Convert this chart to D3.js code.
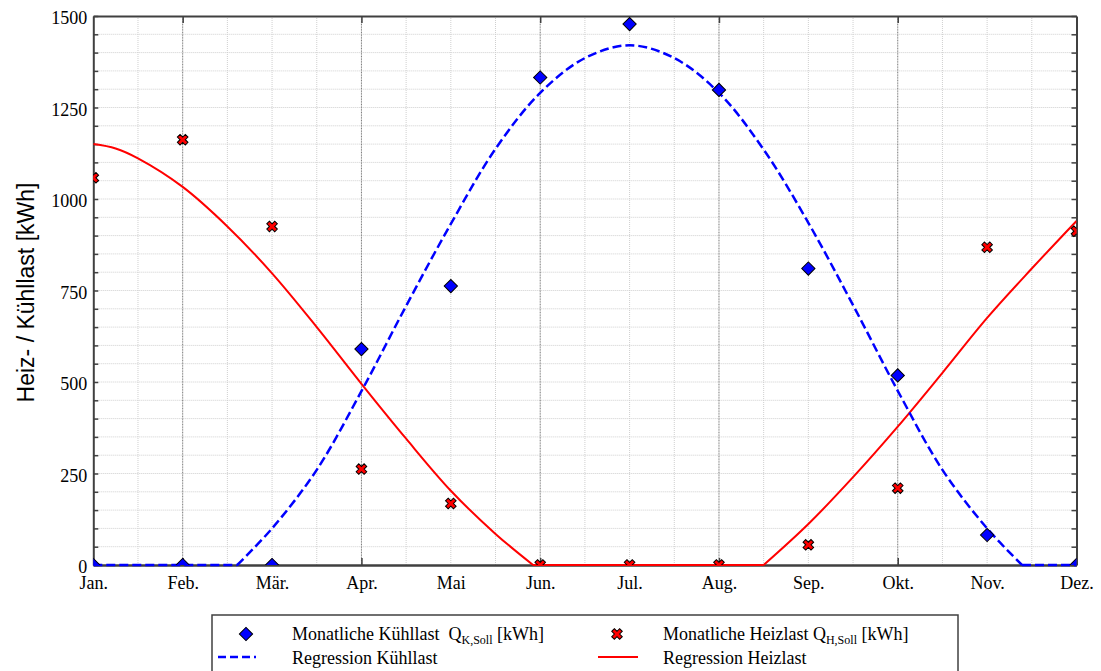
<!DOCTYPE html>
<html>
<head>
<meta charset="utf-8">
<script src="https://cdn.jsdelivr.net/npm/d3@7"></script>
<style>
body{margin:0;background:#fff;}
svg{display:block;}
</style>
</head>
<body>
<svg id="chart"></svg>
<script>
var width = 1101, height = 671;
var plotL = 93.3, plotR = 1076.5, plotT = 16, plotB = 565;

// Monate
var months = ["Jan.","Feb.","Mär.","Apr.","Mai","Jun.","Jul.","Aug.","Sep.","Okt.","Nov.","Dez."];
// Messwerte [kWh]
var kuehllast = [0, 0, 0, 590, 762, 1332, 1478, 1298, 810, 518, 82, 0];
var heizlast = [1058, 1162, 925, 262, 168, 0, 0, 0, 55, 210, 868, 912];
// Regressionskurven (Monatsindex / Wert)
var regKuehlT = [0, 1.61, 2, 2.5, 3, 3.5, 4, 4.5, 5, 5.5, 6, 6.5, 7, 7.5, 8, 8.5, 9, 9.5, 10, 10.39, 11];
var regKuehlV = [0, 0, 100, 260, 475, 708, 932, 1137, 1290, 1385, 1420, 1385, 1290, 1135, 935, 710, 476, 260, 100, 0, 0];
var regHeizT = [0, 0.25, 0.5, 1, 1.5, 2, 2.5, 3, 3.5, 4, 4.5, 4.92, 7.5, 8, 8.5, 9, 9.5, 10, 10.5, 11];
var regHeizV = [1150, 1138, 1111, 1033, 925, 797, 650, 495, 345, 203, 85, 0, 0, 112, 240, 378, 525, 675, 810, 940];
var yTicks = [0, 250, 500, 750, 1000, 1250, 1500];

var svg = d3.select("#chart").attr("width", width).attr("height", height);

var x = d3.scaleLinear().domain([0, 11]).range([plotL, plotR]);
var y = d3.scaleLinear().domain([0, 1500]).range([plotB, plotT]);

var defs = svg.append("defs");
defs.append("clipPath").attr("id", "plotclip")
  .append("rect")
  .attr("x", plotL).attr("y", plotT)
  .attr("width", plotR - plotL).attr("height", plotB - plotT);
defs.append("clipPath").attr("id", "lineclip")
  .append("rect")
  .attr("x", plotL).attr("y", plotT)
  .attr("width", plotR - plotL).attr("height", plotB - plotT + 2);

// Gitter
var grid = svg.append("g");
grid.selectAll(".vmin")
  .data(d3.range(0.5, 11, 0.5).filter(function(d){ return [1,3,5,7,9].indexOf(d) < 0; }))
  .enter().append("line")
  .attr("x1", function(d){ return x(d); }).attr("x2", function(d){ return x(d); })
  .attr("y1", plotT).attr("y2", plotB)
  .attr("stroke", "#cfcfcf").attr("stroke-width", 1).attr("stroke-dasharray", "1,1");
grid.selectAll(".hmin")
  .data(d3.range(50, 1500, 50))
  .enter().append("line")
  .attr("x1", plotL).attr("x2", plotR)
  .attr("y1", function(d){ return y(d); }).attr("y2", function(d){ return y(d); })
  .attr("stroke", "#cfcfcf").attr("stroke-width", 1).attr("stroke-dasharray", "1,1");
grid.selectAll(".vmaj")
  .data([1, 3, 5, 7, 9])
  .enter().append("line")
  .attr("x1", function(d){ return x(d); }).attr("x2", function(d){ return x(d); })
  .attr("y1", plotT).attr("y2", plotB)
  .attr("stroke", "#7a7a7a").attr("stroke-width", 1).attr("stroke-dasharray", "1,0.6");

// Achsen
var fontSerif = "'Liberation Serif','Times New Roman',serif";
var yAxisL = d3.axisLeft(y).tickValues(d3.range(0, 1501, 50)).tickSizeInner(-5).tickSizeOuter(0).tickPadding(6)
  .tickFormat(function(d){ return yTicks.indexOf(d) >= 0 ? d : ""; });
var gl = svg.append("g").attr("transform", "translate(" + plotL + ",0)").call(yAxisL);
gl.selectAll("text").attr("dy", "0.42em");

var yAxisR = d3.axisRight(y).tickValues(d3.range(0, 1501, 50)).tickSizeInner(-5).tickSizeOuter(0).tickFormat("");
svg.append("g").attr("transform", "translate(" + plotR + ",0)").call(yAxisR);

var xAxisB = d3.axisBottom(x).tickValues(d3.range(0, 12)).tickSize(0).tickPadding(11)
  .tickFormat(function(d){ return months[d]; });
svg.append("g").attr("transform", "translate(0," + plotB + ")").call(xAxisB);

var xTickB = d3.axisBottom(x).tickValues([1, 3, 5, 7, 9]).tickSizeInner(-7).tickSizeOuter(0).tickFormat("");
svg.append("g").attr("transform", "translate(0," + plotB + ")").call(xTickB);
var xTickT = d3.axisTop(x).tickValues([1, 3, 5, 7, 9]).tickSizeInner(-7).tickSizeOuter(0).tickFormat("");
svg.append("g").attr("transform", "translate(0," + plotT + ")").call(xTickT);

svg.selectAll(".domain").attr("stroke", "#404040").attr("stroke-width", 2);
svg.selectAll(".tick line").attr("stroke", "#404040").attr("stroke-width", 1.5);
svg.selectAll(".tick text").attr("font-family", fontSerif).attr("font-size", 18).attr("fill", "#000");

// Achsentitel
svg.append("text")
  .attr("transform", "translate(34," + ((plotT + plotB) / 2 + 2) + ") rotate(-90)")
  .attr("text-anchor", "middle")
  .attr("font-family", "'Liberation Sans',Arial,sans-serif")
  .attr("font-size", 23)
  .text("Heiz- / Kühllast [kWh]");

// Kurven
var lines = svg.append("g").attr("clip-path", "url(#lineclip)");
var line = d3.line()
  .x(function(d){ return x(d[0]); })
  .y(function(d){ return y(d[1]); })
  .curve(d3.curveCatmullRom.alpha(0.5));

// Kurve an den Null-Abschnitten aufteilen: flache Teile gerade, Rest glatt
function drawReg(T, V, color, widthPx, dash) {
  var pts = d3.zip(T, V);
  var parts = [], cur = [pts[0]];
  for (var i = 1; i < pts.length; i++) {
    var flatPrev = pts[i - 1][1] === 0 && pts[i][1] === 0;
    var flatCur = cur.length > 1 && cur[cur.length - 2][1] === 0 && cur[cur.length - 1][1] === 0;
    if (cur.length > 1 && flatPrev !== flatCur) {
      parts.push(cur);
      cur = [pts[i - 1]];
    }
    cur.push(pts[i]);
  }
  parts.push(cur);
  var d = parts.map(function(p){ return line(p); }).join("");
  var path = lines.append("path")
    .attr("fill", "none").attr("stroke", color).attr("stroke-width", widthPx)
    .attr("d", d);
  if (dash) path.attr("stroke-dasharray", dash);
}
drawReg(regHeizT, regHeizV, "#ff0000", 2, null);
drawReg(regKuehlT, regKuehlV, "#0000ff", 2.5, "9,4");

// Punkte
var plot = svg.append("g").attr("clip-path", "url(#plotclip)");
var diamond = d3.symbol().type(d3.symbolSquare).size(88);
var cross = d3.symbol().type(d3.symbolCross).size(70);

plot.selectAll(".heiz")
  .data(heizlast)
  .enter().append("path")
  .attr("d", cross)
  .attr("transform", function(d, i){ return "translate(" + x(i) + "," + y(d) + ") rotate(45)"; })
  .attr("fill", "#ff0000").attr("stroke", "#000").attr("stroke-width", 1);

plot.selectAll(".kuehl")
  .data(kuehllast)
  .enter().append("path")
  .attr("d", diamond)
  .attr("transform", function(d, i){ return "translate(" + x(i) + "," + y(d) + ") rotate(45)"; })
  .attr("fill", "#0000ff").attr("stroke", "#000").attr("stroke-width", 1);

// Legende
var leg = svg.append("g");
leg.append("rect")
  .attr("x", 212).attr("y", 615).attr("width", 746).attr("height", 70)
  .attr("fill", "#fff").attr("stroke", "#404040").attr("stroke-width", 1.5);

leg.append("path").attr("d", diamond)
  .attr("transform", "translate(246,634) rotate(45)")
  .attr("fill", "#0000ff").attr("stroke", "#000").attr("stroke-width", 1);
leg.append("path").attr("d", cross)
  .attr("transform", "translate(617,634) rotate(45)")
  .attr("fill", "#ff0000").attr("stroke", "#000").attr("stroke-width", 1);
leg.append("line").attr("x1", 218).attr("x2", 256).attr("y1", 657).attr("y2", 657)
  .attr("stroke", "#0000ff").attr("stroke-width", 2.5).attr("stroke-dasharray", "8,4");
leg.append("line").attr("x1", 598).attr("x2", 638).attr("y1", 657).attr("y2", 657)
  .attr("stroke", "#ff0000").attr("stroke-width", 2);

function legText(xp, yp, main, sub, tail) {
  var t = leg.append("text").attr("x", xp).attr("y", yp)
    .attr("font-family", fontSerif).attr("font-size", 18)
    .style("white-space", "pre");
  t.append("tspan").text(main);
  if (sub) {
    t.append("tspan").attr("font-size", 12).attr("dy", 4).text(sub);
    t.append("tspan").attr("dy", -4).text(tail);
  }
}
legText(292, 640, "Monatliche Kühllast  Q", "K,Soll", " [kWh]");
legText(663, 640, "Monatliche Heizlast Q", "H,Soll", " [kWh]");
legText(292, 664, "Regression Kühllast");
legText(663, 664, "Regression Heizlast");
</script>
</body>
</html>
